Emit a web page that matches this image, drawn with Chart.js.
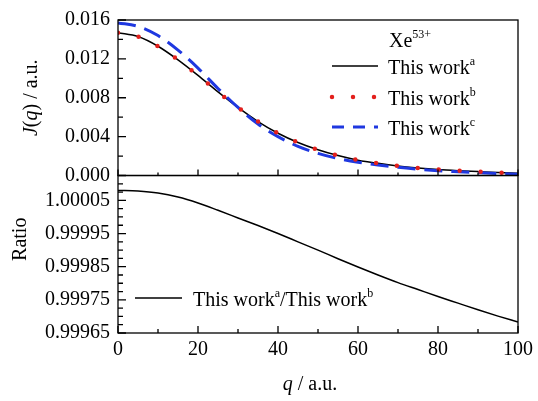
<!DOCTYPE html>
<html>
<head>
<meta charset="utf-8">
<script src="https://cdn.jsdelivr.net/npm/chart.js@4.4.0/dist/chart.umd.min.js"></script>
<style>
  html, body { margin: 0; padding: 0; background: #fff; }
</style>
</head>
<body>
<canvas id="myChart" width="538" height="401"></canvas>
<script>
const fontFamily = "'Liberation Serif', 'Times New Roman', serif";

// Compton profile J(q) of Xe53+ and the ratio of the two "This work" results
const qValues = [0, 5, 10, 15, 20, 25, 30, 35, 40, 45, 50, 55, 60, 65, 70, 75, 80, 85, 90, 95, 100];
const jWorkA = [0.01470, 0.01430, 0.01330, 0.01190, 0.01030, 0.00860, 0.00700, 0.00555, 0.00435, 0.00340, 0.00265,
                0.00205, 0.00158, 0.00125, 0.00098, 0.00078, 0.00062, 0.00050, 0.00040, 0.00031, 0.00024];
const jWorkB = [0.01470, 0.01430, 0.01330, 0.01190, 0.01030, 0.00860, 0.00700, 0.00555, 0.00435, 0.00340, 0.00265,
                0.00205, 0.00158, 0.00125, 0.00098, 0.00078, 0.00062, 0.00050, 0.00040, 0.00031, 0.00024];
const jWorkC = [0.01570, 0.01535, 0.01440, 0.01290, 0.01105, 0.00895, 0.00700, 0.00530, 0.00400, 0.00300, 0.00228,
                0.00175, 0.00137, 0.00108, 0.00084, 0.00065, 0.00050, 0.00039, 0.00029, 0.00020, 0.00014];
const ratioAB = [1.000080, 1.000078, 1.000072, 1.000060, 1.000042, 1.000020, 0.999997, 0.999974, 0.999950, 0.999925, 0.999900,
                 0.999874, 0.999849, 0.999825, 0.999802, 0.999781, 0.999760, 0.999740, 0.999720, 0.999701, 0.999683];

// tick marks and labels
const xMajor = [0, 20, 40, 60, 80, 100];
const xMinor = [10, 30, 50, 70, 90];
const xTickLabels = ['0', '20', '40', '60', '80', '100'];
const jMajor = [0, 0.004, 0.008, 0.012, 0.016];
const jMinor = [0.002, 0.006, 0.010, 0.014];
const jTickLabels = ['0.000', '0.004', '0.008', '0.012', '0.016'];
const ratioMajor = [0.99965, 0.99975, 0.99985, 0.99995, 1.00005];
const ratioMinor = [0.999675, 0.9997, 0.999725, 0.999775, 0.9998, 0.999825, 0.999875, 0.9999, 0.999925,
                    0.999975, 1.0, 1.000025, 1.000075, 1.0001];
const ratioTickLabels = ['0.99965', '0.99975', '0.99985', '0.99995', '1.00005'];

function points(ys) {
    return qValues.map((q, i) => ({x: q, y: ys[i]}));
}

function labelFor(values, labels, v) {
    const i = values.findIndex(t => Math.abs(t - v) < 1e-9);
    return i >= 0 ? labels[i] : '';
}

// text with italic parts and superscripts: parts = [[text, style]], style '' | 'i' | 's'
function setPartFont(ctx, style) {
    if (style === 's') ctx.font = '12px ' + fontFamily;
    else if (style === 'i') ctx.font = 'italic 20px ' + fontFamily;
    else ctx.font = '20px ' + fontFamily;
}

function richWidth(ctx, parts) {
    let w = 0;
    parts.forEach(([text, style]) => { setPartFont(ctx, style); w += ctx.measureText(text).width; });
    return w;
}

function drawRich(ctx, parts, x, y) {
    let cx = x;
    ctx.textAlign = 'left';
    ctx.textBaseline = 'alphabetic';
    parts.forEach(([text, style]) => {
        setPartFont(ctx, style);
        ctx.fillText(text, cx, style === 's' ? y - 9 : y);
        cx += ctx.measureText(text).width;
    });
}

function sampleLine(ctx, ds, x0, x1, y, dash) {
    ctx.save();
    ctx.strokeStyle = ds.borderColor;
    ctx.lineWidth = ds.borderWidth;
    ctx.lineCap = ds.borderCapStyle || 'butt';
    ctx.setLineDash(dash || ds.borderDash || []);
    ctx.beginPath();
    ctx.moveTo(x0, y);
    ctx.lineTo(x1, y);
    ctx.stroke();
    ctx.restore();
}

const frameAndTicks = {
    id: 'frameAndTicks',
    afterDatasetsDraw(chart) {
        const {ctx, chartArea, scales} = chart;
        const x = scales.x, yJ = scales.y, yR = scales.yRatio;
        ctx.save();
        ctx.strokeStyle = '#000';
        ctx.lineWidth = 1.3;
        [yJ, yR].forEach(s => {
            ctx.strokeRect(chartArea.left, s.top, chartArea.right - chartArea.left, s.bottom - s.top);
        });
        ctx.beginPath();
        const xTick = (v, lenR, lenJ) => {
            const px = x.getPixelForValue(v);
            ctx.moveTo(px, yR.bottom); ctx.lineTo(px, yR.bottom - lenR);
            ctx.moveTo(px, yJ.bottom); ctx.lineTo(px, yJ.bottom - lenJ);
        };
        xMajor.forEach(v => xTick(v, 7, 6));
        xMinor.forEach(v => xTick(v, 4, 3));
        const yTick = (s, v, len) => {
            const py = s.getPixelForValue(v);
            ctx.moveTo(chartArea.left, py); ctx.lineTo(chartArea.left + len, py);
        };
        jMajor.forEach(v => yTick(yJ, v, 8));
        jMinor.forEach(v => yTick(yJ, v, 5));
        ratioMajor.forEach(v => yTick(yR, v, 8));
        ratioMinor.forEach(v => yTick(yR, v, 5));
        ctx.stroke();
        ctx.restore();
    },
    afterDraw(chart) {
        const {ctx, chartArea, scales} = chart;
        const yJ = scales.y, yR = scales.yRatio;
        const ds = chart.data.datasets;
        ctx.save();
        ctx.fillStyle = '#000';

        // axis titles
        const jTitle = [['J', 'i'], ['(', ''], ['q', 'i'], [') / a.u.', '']];
        ctx.save();
        ctx.translate(37, (yJ.top + yJ.bottom) / 2);
        ctx.rotate(-Math.PI / 2);
        drawRich(ctx, jTitle, -richWidth(ctx, jTitle) / 2, 0);
        ctx.restore();

        const rTitle = [['Ratio', '']];
        ctx.save();
        ctx.translate(26, (yR.top + yR.bottom) / 2 - 15);
        ctx.rotate(-Math.PI / 2);
        drawRich(ctx, rTitle, -richWidth(ctx, rTitle) / 2, 0);
        ctx.restore();

        const xTitle = [['q', 'i'], [' / a.u.', '']];
        drawRich(ctx, xTitle, (chartArea.left + chartArea.right) / 2 - 8 - richWidth(ctx, xTitle) / 2, 390);

        // legend of the upper panel
        drawRich(ctx, [['Xe', ''], ['53+', 's']], 389, 47);
        const rows = [
            {ds: ds[0], sup: 'a', y: 66, dash: null},
            {ds: ds[1], sup: 'b', y: 97, dash: null},
            {ds: ds[2], sup: 'c', y: 127, dash: [12, 9]}
        ];
        rows.forEach(r => {
            sampleLine(ctx, r.ds, 332, 378, r.y, r.dash);
            drawRich(ctx, [['This work', ''], [r.sup, 's']], 388, r.y + 8);
        });

        // legend of the lower panel
        sampleLine(ctx, ds[3], 135, 182, 298, null);
        drawRich(ctx, [['This work', ''], ['a', 's'], ['/This work', ''], ['b', 's']], 193, 306);
        ctx.restore();
    }
};

const tickFont = {family: fontFamily, size: 20};

const ctx = document.getElementById('myChart').getContext('2d');
const myChart = new Chart(ctx, {
    type: 'line',
    data: {
        datasets: [{
            label: 'This work a',
            data: points(jWorkA),
            yAxisID: 'y',
            borderColor: '#000000',
            borderWidth: 1.5,
            order: 2
        }, {
            label: 'This work b',
            data: points(jWorkB),
            yAxisID: 'y',
            borderColor: '#e3201c',
            borderWidth: 4.5,
            borderDash: [0, 21],
            borderCapStyle: 'round',
            order: 0
        }, {
            label: 'This work c',
            data: points(jWorkC),
            yAxisID: 'y',
            borderColor: '#1f38e0',
            borderWidth: 3,
            borderDash: [18, 9],
            order: 1
        }, {
            label: 'This work a / This work b',
            data: points(ratioAB),
            yAxisID: 'yRatio',
            borderColor: '#000000',
            borderWidth: 1.5,
            order: 3
        }]
    },
    options: {
        responsive: false,
        animation: false,
        devicePixelRatio: 1,
        layout: {padding: {top: 17, right: 16, left: 0, bottom: 0}},
        elements: {
            point: {radius: 0},
            line: {cubicInterpolationMode: 'monotone', fill: false}
        },
        plugins: {legend: {display: false}, tooltip: {enabled: false}},
        scales: {
            x: {
                type: 'linear',
                min: 0,
                max: 100,
                grid: {display: false, drawTicks: false},
                border: {display: false},
                afterBuildTicks: s => { s.ticks = xMajor.map(v => ({value: v})); },
                afterFit: s => { s.height = 68; },
                ticks: {
                    padding: 5,
                    color: '#000',
                    font: tickFont,
                    autoSkip: false,
                    maxRotation: 0,
                    callback: v => labelFor(xMajor, xTickLabels, v)
                }
            },
            yRatio: {
                type: 'linear',
                position: 'left',
                stack: 'panels',
                stackWeight: 159,
                min: 0.99965,
                max: 1.000125,
                grid: {display: false, drawTicks: false},
                border: {display: false},
                afterBuildTicks: s => { s.ticks = ratioMajor.map(v => ({value: v})); },
                afterFit: s => { s.width = 118; },
                ticks: {
                    padding: 8,
                    color: '#000',
                    font: tickFont,
                    autoSkip: false,
                    callback: v => labelFor(ratioMajor, ratioTickLabels, v)
                }
            },
            y: {
                type: 'linear',
                position: 'left',
                stack: 'panels',
                stackWeight: 157,
                min: 0,
                max: 0.016,
                grid: {display: false, drawTicks: false},
                border: {display: false},
                afterBuildTicks: s => { s.ticks = jMajor.map(v => ({value: v})); },
                afterFit: s => { s.width = 118; },
                ticks: {
                    padding: 8,
                    color: '#000',
                    font: tickFont,
                    autoSkip: false,
                    callback: v => labelFor(jMajor, jTickLabels, v)
                }
            }
        }
    },
    plugins: [frameAndTicks]
});
</script>
</body>
</html>
